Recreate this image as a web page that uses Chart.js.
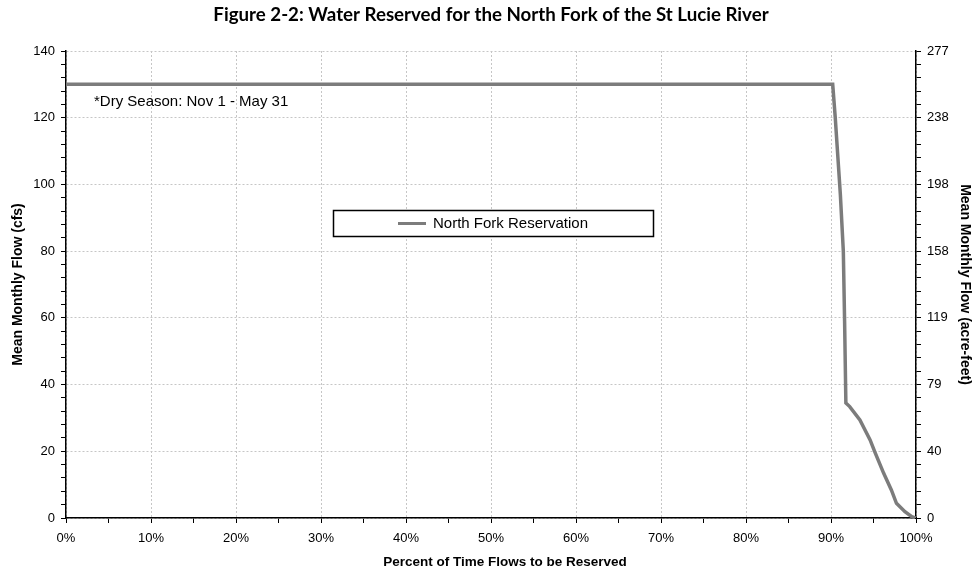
<!DOCTYPE html>
<html><head><meta charset="utf-8">
<script src="https://cdn.jsdelivr.net/npm/chart.js@4/dist/chart.umd.min.js"></script>
<style>html,body{margin:0;padding:0;background:#fff}#wrap{width:975px;height:575px}</style>
</head><body><div id="wrap"><canvas id="c" width="975" height="575"></canvas></div>
<script>
const chartTitle = 'Figure 2-2: Water Reserved for the North Fork of the St Lucie River';
const seriesName = 'North Fork Reservation';
const noteText = '*Dry Season: Nov 1 - May 31';
const xTitle = 'Percent of Time Flows to be Reserved';
const yTitle = 'Mean Monthly Flow (cfs)';
const y2Title = 'Mean Monthly Flow (acre-feet)';

const pctTime = [0, 90.2, 90.5, 91.1, 91.45, 91.6, 91.75, 92.2, 93.4, 94.6, 95.2, 96.2, 97.1, 97.7, 98.7, 99.5, 100];
const flowCfs = [130, 130, 120, 97, 80, 59, 34.5, 33.4, 29.4, 23.4, 19.5, 13.4, 8.4, 4.4, 1.9, 0.4, 0];

const leftTickValues = [0, 20, 40, 60, 80, 100, 120, 140];
const leftTickLabels = ['0', '20', '40', '60', '80', '100', '120', '140'];
const rightTickLabels = ['0', '40', '79', '119', '158', '198', '238', '277'];
const xTickValues = [0, 10, 20, 30, 40, 50, 60, 70, 80, 90, 100];
const xTickLabels = ['0%', '10%', '20%', '30%', '40%', '50%', '60%', '70%', '80%', '90%', '100%'];

const FONT = 'Liberation Sans, Arial, sans-serif';
const LINE_COLOR = '#7c7c7c';
const GRID_COLOR = '#c6c6c6';

const overlay = {
  id: 'overlay',
  afterDraw(chart) {
    const ctx = chart.ctx;
    ctx.save();
    // title
    ctx.fillStyle = '#000';
    ctx.font = 'bold 18.7px Lato, sans-serif';
    ctx.textAlign = 'center';
    ctx.textBaseline = 'middle';
    ctx.fillText(chartTitle, 491, 15);
    // x title
    ctx.font = 'bold 13.5px ' + FONT;
    ctx.fillText(xTitle, 505, 562);
    // note
    ctx.font = '15px ' + FONT;
    ctx.textAlign = 'left';
    ctx.fillText(noteText, 94, 102);
    // legend
    ctx.fillStyle = '#fff';
    ctx.fillRect(333.5, 210.5, 320, 26);
    ctx.strokeStyle = '#000';
    ctx.lineWidth = 1.5;
    ctx.strokeRect(333.5, 210.5, 320, 26);
    ctx.strokeStyle = LINE_COLOR;
    ctx.lineWidth = 3;
    ctx.beginPath();
    ctx.moveTo(398, 223.5);
    ctx.lineTo(426, 223.5);
    ctx.stroke();
    ctx.fillStyle = '#000';
    ctx.font = '15px ' + FONT;
    ctx.fillText(chart.data.datasets[0].label, 433, 224);
    ctx.restore();
  }
};

new Chart(document.getElementById('c'), {
  type: 'line',
  data: {
    datasets: [{
      label: seriesName,
      data: pctTime.map((x, i) => ({ x: x, y: flowCfs[i] })),
      borderColor: LINE_COLOR,
      borderWidth: 3.5,
      pointRadius: 0,
      tension: 0,
      fill: false,
      yAxisID: 'y'
    }]
  },
  options: {
    responsive: false,
    animation: false,
    devicePixelRatio: 1,
    layout: { padding: { top: 51, left: 0, right: 0, bottom: 0 } },
    plugins: { legend: { display: false }, tooltip: { enabled: false }, title: { display: false } },
    scales: {
      x: {
        type: 'linear', min: 0, max: 100,
        afterFit: s => { s.height = 57; },
        ticks: {
          stepSize: 5, autoSkip: false, maxRotation: 0, padding: 8,
          color: '#000', font: { family: FONT, size: 13 },
          callback: v => { const i = xTickValues.indexOf(v); return i >= 0 ? xTickLabels[i] : ''; }
        },
        grid: {
          color: c => (c.tick && xTickValues.includes(c.tick.value)) ? GRID_COLOR : 'rgba(0,0,0,0)',
          tickColor: '#000', tickLength: 5, lineWidth: 1
        },
        border: { color: '#000', width: 1.5, dash: [2, 2] }
      },
      y: {
        position: 'left', min: 0, max: 140,
        afterFit: s => { s.width = 66; },
        ticks: {
          stepSize: 4, autoSkip: false, padding: 6,
          color: '#000', font: { family: FONT, size: 13 },
          callback: v => { const i = leftTickValues.indexOf(v); return i >= 0 ? leftTickLabels[i] : ''; }
        },
        grid: {
          color: c => (c.tick && leftTickValues.includes(c.tick.value)) ? GRID_COLOR : 'rgba(0,0,0,0)',
          tickColor: '#000', tickLength: 5, lineWidth: 1
        },
        border: { color: '#000', width: 1.5, dash: [2, 2] },
        title: { display: true, text: yTitle, color: '#000', font: { family: FONT, size: 14, weight: 'bold' }, padding: { top: 10, bottom: 0 } }
      },
      y1: {
        position: 'right', min: 0, max: 140,
        afterFit: s => { s.width = 59; },
        ticks: {
          stepSize: 4, autoSkip: false, padding: 6,
          color: '#000', font: { family: FONT, size: 13 },
          callback: v => { const i = leftTickValues.indexOf(v); return i >= 0 ? rightTickLabels[i] : ''; }
        },
        grid: { drawOnChartArea: false, color: 'rgba(0,0,0,0)', tickColor: '#000', tickLength: 5 },
        border: { color: '#000', width: 1.5 },
        title: { display: true, text: y2Title, color: '#000', font: { family: FONT, size: 14, weight: 'bold' }, padding: { top: 2, bottom: 0 } }
      }
    }
  },
  plugins: [overlay]
});
</script>
</body></html>
